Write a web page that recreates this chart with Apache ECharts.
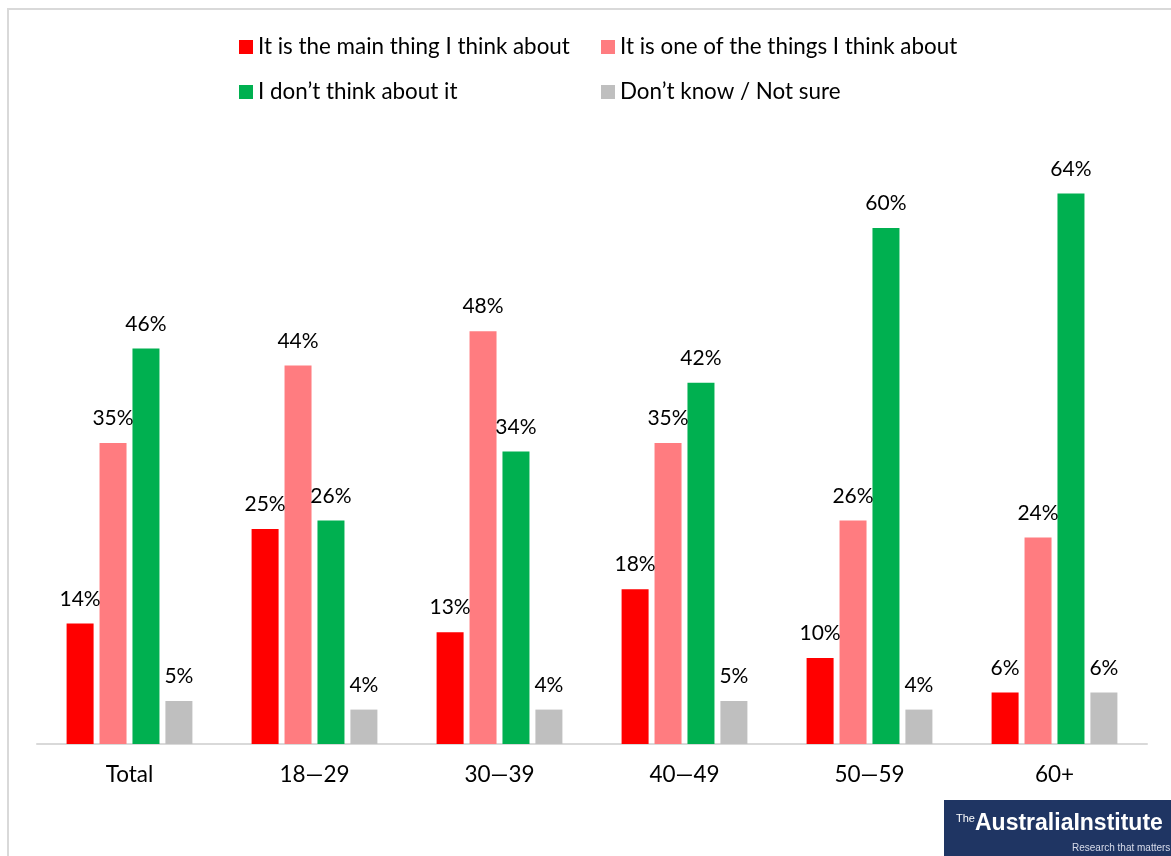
<!DOCTYPE html>
<html>
<head>
<meta charset="utf-8">
<style>
  html, body { margin: 0; padding: 0; background: #ffffff; }
  #chart { width: 1171px; height: 856px; }
</style>
<script src="https://cdn.jsdelivr.net/npm/echarts@6/dist/echarts.min.js"></script>
</head>
<body>
<div id="chart"></div>
<script>
// Age groups along the x axis
const categories = ['Total', '18\u201429', '30\u201439', '40\u201449', '50\u201459', '60+'];

// Response shares (%) per age group
const mainThing   = [14, 25, 13, 18, 10, 6];
const oneOfThings = [35, 44, 48, 35, 26, 24];
const dontThink   = [46, 26, 34, 42, 60, 64];
const dontKnow    = [5, 4, 4, 5, 4, 6];

const seriesNames = [
  'It is the main thing I think about',
  'It is one of the things I think about',
  'I don\u2019t think about it',
  'Don\u2019t know / Not sure'
];
const seriesData = [mainThing, oneOfThings, dontThink, dontKnow];
const colors = ['#ff0000', '#ff7c80', '#00b050', '#bfbfbf'];

const FONT = 'Lato';

const chart = echarts.init(document.getElementById('chart'), null, { renderer: 'canvas' });

// One legend per item so the 2x2 arrangement sits where it should
const legendPos = [
  { left: 239, top: 36 },
  { left: 601, top: 36 },
  { left: 239, top: 81 },
  { left: 601, top: 81 }
];
const legends = seriesNames.map((name, i) => ({
  data: [name],
  left: legendPos[i].left,
  top: legendPos[i].top,
  padding: 0,
  icon: 'rect',
  itemWidth: 14,
  itemHeight: 14,
  itemGap: 0,
  selectedMode: false,
  textStyle: { fontFamily: FONT, fontSize: 22.4, color: '#000000' }
}));

const option = {
  backgroundColor: '#ffffff',
  animation: false,
  color: colors,
  legend: legends,
  grid: { left: 37, right: 24, top: 142, bottom: 112, containLabel: false },
  xAxis: {
    type: 'category',
    data: categories,
    axisLine: { lineStyle: { color: '#d9d9d9', width: 2 } },
    axisTick: { show: false },
    axisLabel: { fontFamily: FONT, fontSize: 22.5, color: '#000000', margin: 19 }
  },
  yAxis: {
    type: 'value',
    min: 0,
    max: 70,
    show: false,
    splitLine: { show: false }
  },
  series: seriesNames.map((name, i) => ({
    name: name,
    type: 'bar',
    data: seriesData[i],
    barWidth: 27,
    barGap: '22%',
    barCategoryGap: '32%',
    itemStyle: { color: colors[i] },
    label: {
      show: true,
      position: 'top',
      distance: 14,
      formatter: p => p.value + '%',
      fontFamily: FONT,
      fontSize: 21,
      color: '#000000'
    }
  })),
  graphic: [
    {
      type: 'rect',
      shape: { x: 8, y: 9, width: 1200, height: 900 },
      style: { fill: 'none', stroke: '#d9d9d9', lineWidth: 2 },
      silent: true
    },
    {
      type: 'rect',
      shape: { x: 944, y: 800, width: 227, height: 56 },
      style: { fill: '#1f3563' },
      silent: true
    },
    {
      type: 'text',
      left: 956, top: 813,
      style: { text: 'The', fill: '#ffffff', font: '11px "Liberation Sans Narrow", "Liberation Sans", sans-serif' },
      silent: true
    },
    {
      type: 'text',
      left: 975, top: 812,
      style: { text: 'AustraliaInstitute', fill: '#ffffff', font: 'bold 23px "Liberation Sans Narrow", "Liberation Sans", sans-serif' },
      silent: true
    },
    {
      type: 'text',
      left: 1072, top: 843,
      style: { text: 'Research that matters.', fill: '#d8dcea', font: '10px "Liberation Sans Narrow", "Liberation Sans", sans-serif' },
      silent: true
    }
  ]
};

chart.setOption(option);
</script>
</body>
</html>
